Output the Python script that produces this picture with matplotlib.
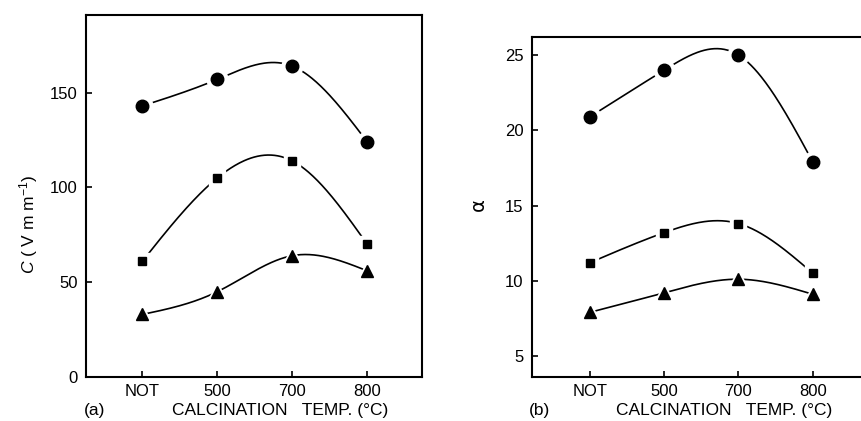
import numpy as np
import matplotlib
matplotlib.use("Agg")
import matplotlib.pyplot as plt

plt.rcParams['font.family'] = ['Liberation Sans', 'DejaVu Sans']
plt.rcParams['mathtext.fontset'] = 'custom'
plt.rcParams['mathtext.rm'] = 'Liberation Sans'
plt.rcParams['mathtext.it'] = 'Liberation Sans:italic'

categories = ["NOT", "500", "700", "800"]

# Panel (a): C (V/mm)
c_circle = [143, 157, 164, 124]
c_square = [61, 105, 114, 70]
c_triangle = [33, 45, 64, 56]
c_yticks = [0, 50, 100, 150]

# Panel (b): alpha
a_circle = [20.9, 24.0, 25.0, 17.9]
a_square = [11.2, 13.2, 13.8, 10.5]
a_triangle = [7.9, 9.2, 10.1, 9.1]
a_yticks = [5, 10, 15, 20, 25]


def natural_spline(x, y, n=200):
    x = np.asarray(x, float)
    y = np.asarray(y, float)
    m = len(x)
    h = np.diff(x)
    A = np.zeros((m, m))
    r = np.zeros(m)
    A[0, 0] = A[-1, -1] = 1
    for i in range(1, m - 1):
        A[i, i - 1] = h[i - 1]
        A[i, i] = 2 * (h[i - 1] + h[i])
        A[i, i + 1] = h[i]
        r[i] = 3 * ((y[i + 1] - y[i]) / h[i] - (y[i] - y[i - 1]) / h[i - 1])
    c = np.linalg.solve(A, r)
    xs = np.linspace(x[0], x[-1], n)
    ys = np.empty_like(xs)
    for k, xv in enumerate(xs):
        i = min(np.searchsorted(x, xv, side='right') - 1, m - 2)
        b = (y[i + 1] - y[i]) / h[i] - h[i] * (2 * c[i] + c[i + 1]) / 3
        d = (c[i + 1] - c[i]) / (3 * h[i])
        t = xv - x[i]
        ys[k] = y[i] + b * t + c[i] * t ** 2 + d * t ** 3
    return xs, ys


fig = plt.figure(figsize=(8.62, 4.21), dpi=100)
ax1 = fig.add_axes([0.0998, 0.1045, 0.3898, 0.86])
ax2 = fig.add_axes([0.6172, 0.1045, 0.392, 0.8076])

xpos = np.arange(len(categories))
series_style = [("o", 9, 15), ("s", 6, 12), ("^", 9, 15)]


def draw(ax, seriess):
    for vals, (mk, ms, wms) in zip(seriess, series_style):
        xs, ys = natural_spline(xpos, vals)
        ax.plot(xs, ys, color='black', lw=1.2, zorder=2)
        ax.plot(xpos, vals, linestyle='none', marker=mk, ms=wms,
                color='white', mec='white', zorder=3)
        ax.plot(xpos, vals, linestyle='none', marker=mk, ms=ms,
                color='black', mec='black', zorder=4)
    ax.set_xticks(xpos)
    ax.set_xticklabels(categories)
    for s in ax.spines.values():
        s.set_linewidth(1.5)
    ax.tick_params(direction='in', length=4, width=1.2, labelsize=12,
                   top=False, right=False)
    ax.tick_params(axis='y', pad=6)
    ax.tick_params(axis='x', pad=5)


draw(ax1, [c_circle, c_square, c_triangle])
ax1.set_xlim(-0.75, 3.73)
ax1.set_ylim(0, 191)
ax1.set_yticks(c_yticks)

draw(ax2, [a_circle, a_square, a_triangle])
ax2.set_xlim(-0.78, 3.77)
ax2.set_ylim(3.6, 26.2)
ax2.set_yticks(a_yticks)

fig.text(0.033, 0.468, r"$C$ ( V m m$^{-1}$)", rotation=90, ha='center',
         va='center', fontsize=12.5)
fig.text(0.555, 0.513, "α", rotation=90, ha='center', va='center',
         fontsize=14, family=['DejaVu Sans'])

fig.text(0.11, 0.026, "(a)", ha='center', va='center', fontsize=12.5)
fig.text(0.325, 0.026, "CALCINATION   TEMP. (°C)", ha='center', va='center',
         fontsize=12.5)
fig.text(0.626, 0.026, "(b)", ha='center', va='center', fontsize=12.5)
fig.text(0.84, 0.026, "CALCINATION   TEMP. (°C)", ha='center', va='center',
         fontsize=12.5)

fig.savefig("out.png", dpi=100)
